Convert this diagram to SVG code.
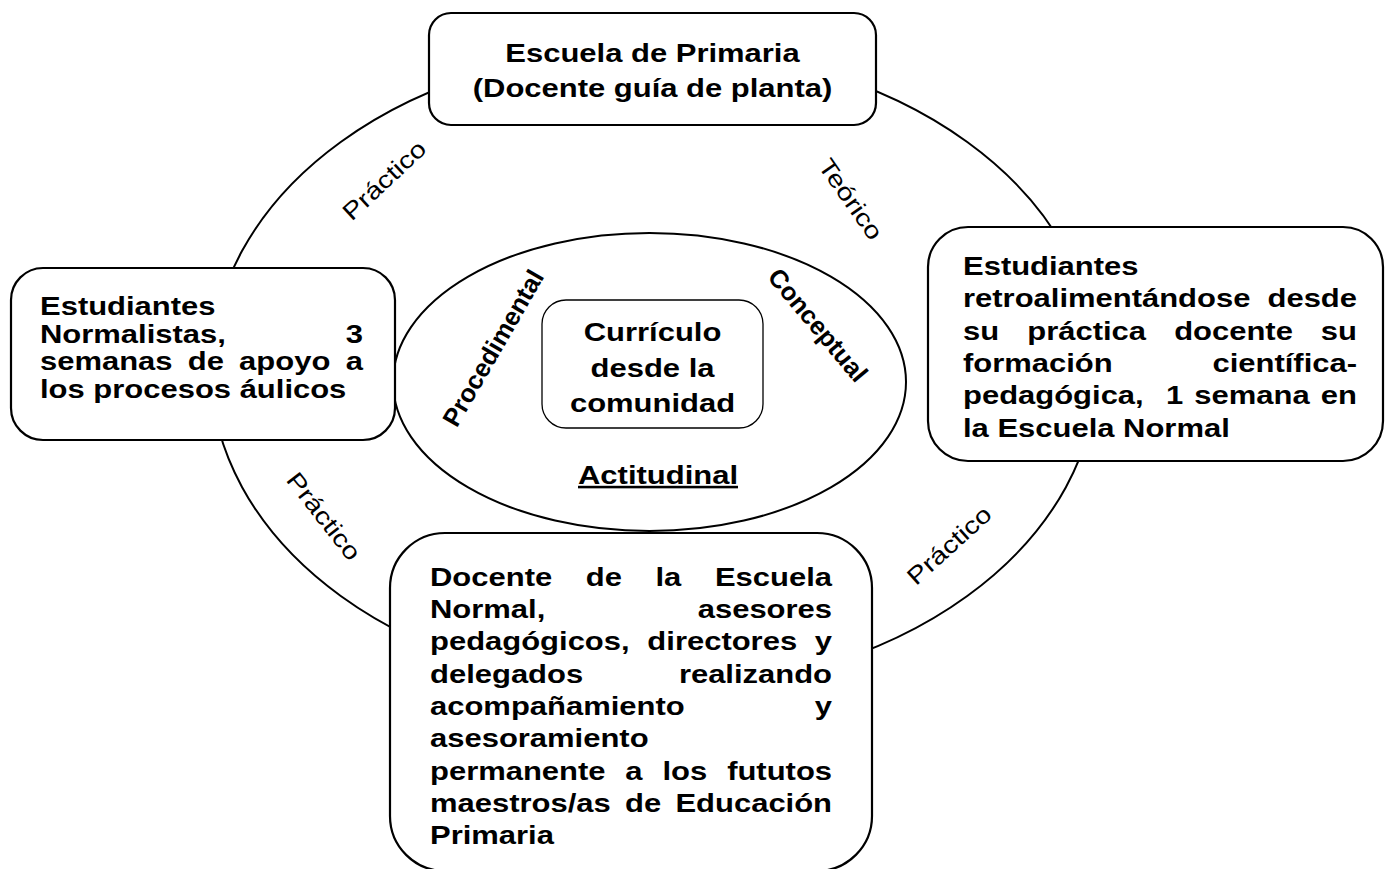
<svg xmlns="http://www.w3.org/2000/svg" width="1385" height="869" viewBox="0 0 1385 869">
<style>
.b{font-family:"Liberation Sans",Arial,sans-serif;font-weight:bold;font-size:25.5px;fill:#000}
.r{font-family:"Liberation Sans",Arial,sans-serif;font-size:24px;fill:#000}
.box{fill:#fff;stroke:#000;stroke-width:2.2}
.ring{fill:none;stroke:#000;stroke-width:2}
</style>
<rect width="1385" height="869" fill="#fff"/>
<g id="connectors">
<ellipse class="ring" cx="654" cy="369" rx="443" ry="321"/>
<ellipse class="ring" cx="649.5" cy="382" rx="256.5" ry="149"/>
</g>
<g id="labels">
<text class="r" text-anchor="middle" transform="translate(384,180) rotate(-43) scale(1.2,1)" y="8.6">Práctico</text>
<text class="r" text-anchor="middle" transform="translate(851,199) rotate(55) scale(1.2,1)" y="8.6">Teórico</text>
<text class="r" text-anchor="middle" transform="translate(324,516) rotate(52) scale(1.2,1)" y="8.6">Práctico</text>
<text class="r" text-anchor="middle" transform="translate(949,545) rotate(-42) scale(1.2,1)" y="8.6">Práctico</text>
<text class="b" text-anchor="middle" transform="translate(493,348) rotate(-60)" y="9">Procedimental</text>
<text class="b" text-anchor="middle" transform="translate(818,325) rotate(50)" y="9">Conceptual</text>
<text class="b" text-anchor="middle" transform="translate(658,0) scale(1.215,1)" y="484" text-decoration="underline">Actitudinal</text>
</g>
<g id="top">
<rect class="box" x="429" y="13" width="447" height="112" rx="22"/>
<g transform="translate(652.5,0) scale(1.215,1)">
<text class="b" text-anchor="middle" x="0" y="62">Escuela de Primaria</text>
<text class="b" text-anchor="middle" x="0" y="97">(Docente guía de planta)</text>
</g>
</g>
<g id="center">
<rect x="542" y="300" width="221" height="128" rx="24" fill="#fff" stroke="#000" stroke-width="1.3"/>
<g transform="translate(652.5,0) scale(1.215,1)">
<text class="b" text-anchor="middle" x="0" y="341">Currículo</text>
<text class="b" text-anchor="middle" x="0" y="377">desde la</text>
<text class="b" text-anchor="middle" x="0" y="412">comunidad</text>
</g>
</g>
<g id="left">
<rect class="box" x="11" y="268" width="384" height="172" rx="32"/>
<g transform="translate(40,0) scale(1.215,1)">
<text class="b" x="0" y="315">Estudiantes</text>
<text class="b" x="0" y="343">Normalistas,</text>
<text class="b" x="265.8" y="343" text-anchor="end">3</text>
<text class="b" y="370.5"><tspan x="0">semanas</tspan><tspan x="121.6">de</tspan><tspan x="163.9">apoyo</tspan></text>
<text class="b" x="265.8" y="370.5" text-anchor="end">a</text>
<text class="b" x="0" y="398">los procesos áulicos</text>
</g>
</g>
<g id="right">
<rect class="box" x="928" y="227" width="455" height="234" rx="40"/>
<g transform="translate(963,0) scale(1.215,1)">
<text class="b" x="0" y="275">Estudiantes</text>
<text class="b" x="0" y="307.5">retroalimentándose</text>
<text class="b" x="324.3" y="307.5" text-anchor="end">desde</text>
<text class="b" y="340"><tspan x="0">su</tspan><tspan x="52.9">práctica</tspan><tspan x="173.8">docente</tspan></text>
<text class="b" x="324.3" y="340" text-anchor="end">su</text>
<text class="b" x="0" y="372">formación</text>
<text class="b" x="324.3" y="372" text-anchor="end">científica-</text>
<text class="b" y="404.5"><tspan x="0">pedagógica,</tspan><tspan x="167.1">1</tspan><tspan x="190.4">semana</tspan></text>
<text class="b" x="324.3" y="404.5" text-anchor="end">en</text>
<text class="b" x="0" y="437">la Escuela Normal</text>
</g>
</g>
<g id="bottom">
<rect class="box" x="390" y="533" width="482" height="338" rx="55"/>
<g transform="translate(430,0) scale(1.215,1)">
<text class="b" y="586"><tspan x="0">Docente</tspan><tspan x="128.2">de</tspan><tspan x="185.6">la</tspan></text>
<text class="b" x="330.9" y="586" text-anchor="end">Escuela</text>
<text class="b" x="0" y="618">Normal,</text>
<text class="b" x="330.9" y="618" text-anchor="end">asesores</text>
<text class="b" y="650.5"><tspan x="0">pedagógicos,</tspan><tspan x="178.9">directores</tspan></text>
<text class="b" x="330.9" y="650.5" text-anchor="end">y</text>
<text class="b" x="0" y="683">delegados</text>
<text class="b" x="330.9" y="683" text-anchor="end">realizando</text>
<text class="b" x="0" y="715">acompañamiento</text>
<text class="b" x="330.9" y="715" text-anchor="end">y</text>
<text class="b" x="0" y="747.5">asesoramiento</text>
<text class="b" y="780"><tspan x="0">permanente</tspan><tspan x="160.8">a</tspan><tspan x="191.3">los</tspan></text>
<text class="b" x="330.9" y="780" text-anchor="end">fututos</text>
<text class="b" y="812"><tspan x="0">maestros/as</tspan><tspan x="160.5">de</tspan></text>
<text class="b" x="330.9" y="812" text-anchor="end">Educación</text>
<text class="b" x="0" y="844.5">Primaria</text>
</g>
</g>
</svg>
